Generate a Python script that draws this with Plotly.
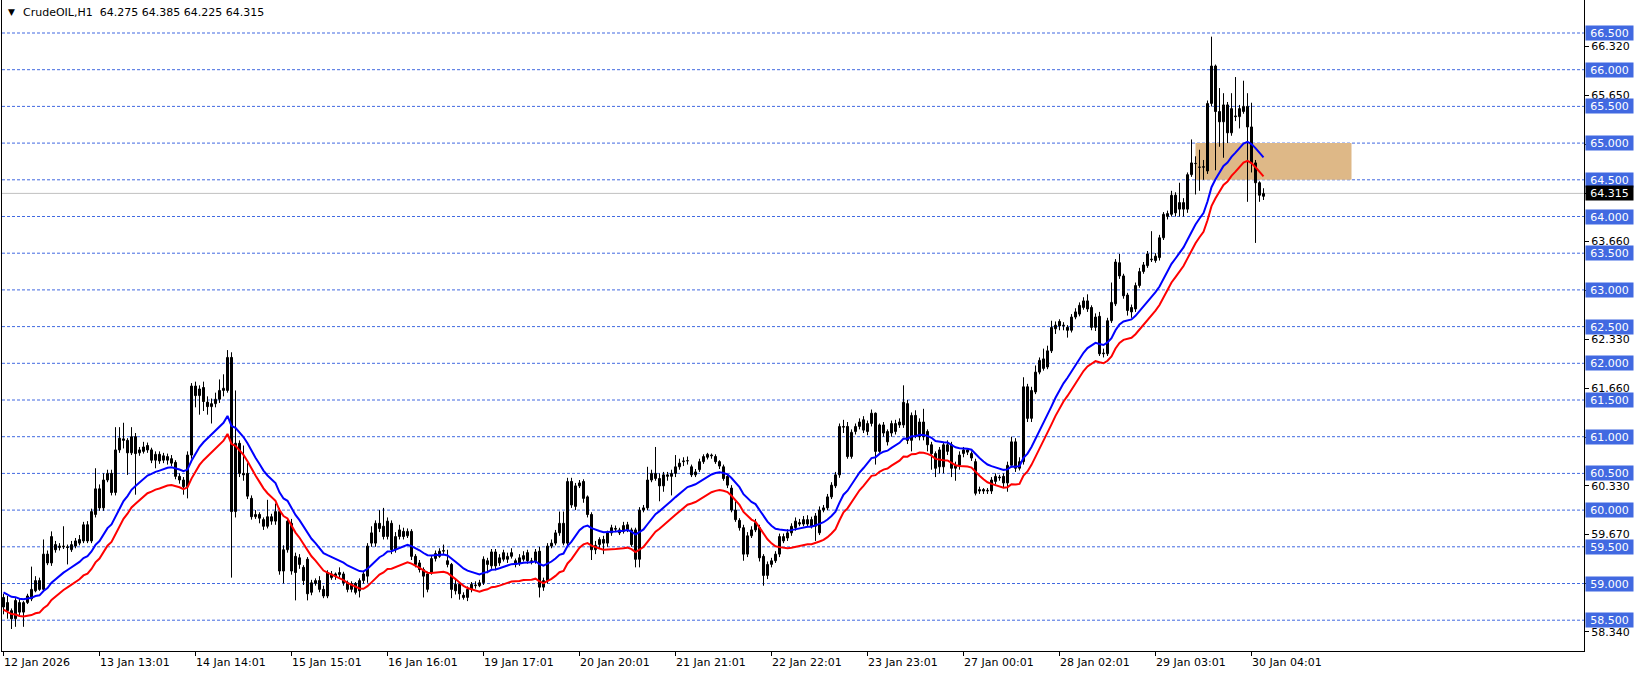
import plotly.graph_objects as go

# ---------------- data ----------------
open_ = [
58.81,58.74,58.63,58.52,58.74,58.61,58.74,58.79,58.90,59.04,
58.92,59.40,59.28,59.53,59.49,59.51,59.50,59.46,59.51,59.55,
59.58,59.80,59.58,59.94,60.29,60.03,60.41,60.50,60.24,60.82,
60.97,60.95,60.78,61.00,60.78,60.80,60.88,60.82,60.68,60.76,
60.68,60.68,60.70,60.65,60.46,60.41,60.32,60.75,61.69,61.56,
61.67,61.47,61.41,61.45,61.51,61.63,61.63,62.08,59.98,60.91,
60.50,60.50,60.16,59.91,59.94,59.87,59.78,59.85,59.85,59.98,
59.17,59.46,59.82,59.37,59.35,59.22,59.33,58.88,59.00,59.04,
58.92,58.83,59.08,59.10,59.12,59.13,59.01,58.92,59.00,58.90,
59.04,59.10,59.55,59.55,59.82,59.78,59.64,59.82,59.46,59.64,
59.71,59.65,59.71,59.37,59.28,59.19,58.92,59.15,59.34,59.37,
59.44,59.31,59.26,58.90,58.99,58.84,58.81,58.92,58.97,58.97,
59.01,59.31,59.24,59.43,59.28,59.33,59.33,59.37,59.31,59.27,
59.33,59.42,59.31,59.30,59.44,58.95,59.04,59.51,59.55,59.69,
59.82,59.55,60.39,60.05,60.33,60.39,60.18,59.94,59.46,59.53,
59.60,59.55,59.69,59.75,59.69,59.71,59.73,59.73,59.73,59.33,
60.00,60.03,60.41,60.43,60.43,60.33,60.46,60.46,60.50,60.59,
60.66,60.67,60.59,60.48,60.55,60.66,60.72,60.75,60.73,60.66,
60.59,60.46,60.30,60.00,59.86,59.76,59.40,59.65,59.73,59.76,
59.37,59.11,59.26,59.31,59.40,59.58,59.62,59.69,59.76,59.81,
59.81,59.81,59.87,59.78,59.69,60.00,60.03,60.18,60.33,60.48,
61.14,61.14,60.73,61.07,61.14,61.23,61.07,61.18,61.32,60.80,
61.16,61.07,61.05,61.07,61.16,61.16,61.45,60.95,61.29,61.00,
61.20,61.07,60.89,60.77,60.59,60.59,60.80,60.89,60.57,60.61,
60.77,60.82,60.77,60.66,60.26,60.28,60.26,60.26,60.39,60.45,
60.46,60.37,60.61,60.93,60.57,60.66,61.68,61.25,61.61,61.88,
61.93,61.95,62.17,62.47,62.57,62.51,62.49,62.45,62.63,62.67,
62.76,62.85,62.76,62.49,62.64,62.13,62.13,62.58,62.81,63.37,
63.19,62.93,62.76,62.74,63.06,63.25,63.33,63.41,63.40,63.44,
63.71,64.00,64.03,64.29,64.10,64.10,64.10,64.57,64.72,64.67,
64.67,64.62,65.54,66.05,65.43,65.29,65.52,65.14,65.37,65.36,
65.43,65.50,65.22,64.73,64.46,64.275,
]
high = [
58.86,58.83,58.66,58.80,58.79,58.76,58.86,59.23,59.10,59.08,
59.60,59.45,59.71,59.58,59.55,59.78,59.53,59.58,59.62,59.66,
59.84,59.85,60.02,60.57,60.35,60.50,60.55,60.55,61.13,61.13,
61.19,60.98,61.13,61.05,60.86,60.93,60.92,60.85,60.80,60.80,
60.78,60.77,60.75,60.68,60.50,60.45,60.80,61.73,61.75,61.70,
61.75,61.55,61.52,61.60,61.78,61.85,62.18,62.15,61.63,60.95,
60.88,60.64,60.20,60.00,59.97,59.90,60.14,59.95,60.09,60.03,
59.52,59.88,59.88,59.42,59.40,59.25,59.36,59.05,59.07,59.10,
58.97,59.18,59.17,59.15,59.22,59.16,59.04,59.03,59.02,59.07,
59.17,59.55,59.78,59.86,60.00,60.03,59.90,59.86,59.70,59.80,
59.76,59.75,59.74,59.40,59.32,59.22,59.16,59.38,59.45,59.48,
59.53,59.46,59.28,59.05,59.02,58.88,58.96,59.02,59.03,59.05,
59.37,59.35,59.47,59.47,59.40,59.46,59.42,59.48,59.34,59.40,
59.44,59.46,59.35,59.47,59.50,59.08,59.55,59.60,59.73,59.98,
59.98,60.44,60.44,60.37,60.41,60.42,60.20,59.97,59.58,59.63,
59.65,59.72,59.80,59.79,59.76,59.84,59.84,59.76,59.76,60.04,
60.07,60.59,60.55,60.86,60.50,60.52,60.52,60.55,60.75,60.70,
60.72,60.73,60.62,60.56,60.70,60.76,60.78,60.77,60.76,60.68,
60.62,60.48,60.34,60.12,59.89,59.80,59.70,59.78,59.88,59.80,
59.40,59.30,59.35,59.44,59.68,59.68,59.74,59.82,59.90,59.88,
59.92,59.93,59.91,59.96,60.05,60.07,60.22,60.38,60.52,61.18,
61.23,61.20,61.10,61.18,61.25,61.28,61.22,61.37,61.33,61.18,
61.20,61.10,61.22,61.23,61.25,61.70,61.50,61.33,61.36,61.25,
61.38,61.10,60.93,60.80,60.86,60.93,60.95,60.93,60.66,60.80,
60.86,60.84,60.80,60.70,60.32,60.30,60.30,60.45,60.50,60.48,
60.50,60.66,61.00,60.98,60.72,61.81,61.72,61.68,61.97,62.08,
62.20,62.24,62.58,62.57,62.60,62.56,62.52,62.67,62.75,62.83,
62.90,62.94,62.79,62.68,62.70,62.20,62.62,63.10,63.42,63.49,
63.22,62.96,62.80,63.10,63.30,63.38,63.53,63.80,63.50,63.75,
64.06,64.08,64.35,64.33,64.46,64.25,64.60,65.05,64.82,64.91,
64.77,65.58,66.45,66.07,65.75,65.68,65.56,65.68,65.90,65.52,
65.85,65.68,65.55,64.77,64.48,64.385,
]
low = [
58.58,58.52,58.38,58.41,58.56,58.41,58.72,58.76,58.88,58.90,
58.90,59.25,59.24,59.42,59.45,59.47,59.26,59.43,59.48,59.52,
59.55,59.55,59.55,59.90,59.99,59.99,60.38,60.20,60.20,60.78,
60.84,60.48,60.75,60.21,60.74,60.77,60.78,60.64,60.57,60.63,
60.64,60.62,60.60,60.42,60.36,60.21,60.16,60.70,61.40,61.30,
61.35,61.30,61.18,61.40,61.46,61.55,61.60,59.08,59.90,60.45,
60.40,60.15,59.87,59.88,59.82,59.73,59.75,59.80,59.80,59.12,
59.00,59.42,59.12,58.77,59.20,58.98,58.77,58.84,58.97,58.88,
58.80,58.80,59.05,59.05,59.08,58.97,58.88,58.88,58.85,58.81,
59.00,59.01,59.50,59.50,59.70,59.60,59.60,59.40,59.42,59.60,
59.60,59.62,59.32,59.22,59.15,58.81,58.88,59.12,59.30,59.35,
59.40,59.22,58.80,58.85,58.78,58.78,58.76,58.88,58.93,58.95,
58.98,59.14,59.20,59.18,59.24,59.30,59.28,59.34,59.22,59.24,
59.30,59.27,59.26,59.27,58.81,58.90,59.00,59.48,59.52,59.65,
59.52,59.52,60.03,60.00,60.30,60.10,59.90,59.32,59.40,59.48,
59.40,59.50,59.65,59.70,59.66,59.68,59.70,59.50,59.22,59.22,
59.97,60.00,60.38,60.40,60.12,60.25,60.40,60.20,60.45,60.55,
60.60,60.62,60.45,60.45,60.52,60.63,60.69,60.70,60.63,60.56,
60.40,60.30,59.97,59.84,59.72,59.31,59.36,59.62,59.70,59.30,
58.97,59.06,59.22,59.28,59.36,59.55,59.58,59.65,59.72,59.78,
59.78,59.77,59.75,59.58,59.66,59.97,60.00,60.15,60.30,60.44,
61.05,60.70,60.70,61.03,61.10,61.05,61.02,61.14,60.62,60.78,
61.00,60.88,61.00,61.03,61.12,61.12,60.90,60.80,60.98,60.95,
60.95,60.80,60.55,60.45,60.50,60.50,60.75,60.45,60.40,60.55,
60.72,60.75,60.67,60.20,60.22,60.22,60.22,60.22,60.35,60.40,
60.30,60.25,60.58,60.52,60.54,60.62,61.20,61.20,61.58,61.85,
61.90,61.92,62.14,62.40,62.45,62.45,62.35,62.42,62.60,62.64,
62.73,62.70,62.45,62.44,62.10,62.08,62.10,62.55,62.78,63.15,
62.88,62.65,62.62,62.70,63.03,63.22,63.30,63.38,63.37,63.40,
63.68,63.96,64.00,64.00,64.00,64.00,64.05,64.54,64.30,64.35,
64.50,64.58,65.50,64.63,64.95,64.80,65.00,65.10,65.30,65.20,
65.40,64.20,64.60,63.64,64.20,64.225,
]
close = [
58.68,58.63,58.52,58.77,58.61,58.74,58.83,58.92,59.04,58.92,
59.40,59.28,59.64,59.46,59.51,59.50,59.49,59.53,59.58,59.60,
59.80,59.58,59.98,60.29,60.03,60.41,60.50,60.24,60.82,60.98,
60.95,60.78,61.00,60.77,60.82,60.86,60.82,60.68,60.76,60.67,
60.74,60.73,60.64,60.46,60.41,60.32,60.75,61.69,61.56,61.65,
61.48,61.41,61.45,61.51,61.63,61.66,62.08,59.98,60.91,60.50,
60.48,60.19,59.91,59.94,59.89,59.78,59.91,59.91,59.98,59.17,
59.46,59.85,59.17,59.15,59.26,59.04,58.86,59.01,59.04,58.92,
58.83,59.15,59.13,59.13,59.15,59.01,58.92,59.00,58.88,59.04,
59.13,59.51,59.69,59.82,59.75,59.64,59.85,59.46,59.64,59.73,
59.64,59.71,59.37,59.26,59.19,59.10,59.13,59.34,59.41,59.44,
59.45,59.26,58.92,58.99,58.86,58.81,58.92,58.99,58.98,59.01,
59.33,59.26,59.43,59.24,59.35,59.42,59.37,59.42,59.26,59.35,
59.38,59.31,59.30,59.43,58.95,59.04,59.51,59.55,59.69,59.82,
59.55,60.39,60.07,60.33,60.37,60.16,59.94,59.46,59.52,59.60,
59.55,59.69,59.76,59.74,59.73,59.79,59.80,59.53,59.33,60.00,
60.03,60.41,60.50,60.50,60.33,60.48,60.48,60.50,60.59,60.64,
60.67,60.67,60.48,60.52,60.66,60.73,60.76,60.74,60.66,60.60,
60.43,60.34,60.00,59.87,59.76,59.40,59.65,59.73,59.83,59.35,
59.11,59.26,59.31,59.40,59.64,59.64,59.69,59.78,59.85,59.83,
59.87,59.87,59.78,59.92,60.00,60.03,60.18,60.34,60.48,61.14,
61.13,60.73,61.06,61.14,61.20,61.09,61.18,61.32,60.80,61.16,
61.05,60.93,61.18,61.18,61.20,61.47,60.95,61.29,61.02,61.20,
61.00,60.89,60.77,60.57,60.82,60.89,60.89,60.57,60.61,60.75,
60.82,60.79,60.71,60.23,60.28,60.26,60.27,60.41,60.46,60.44,
60.37,60.61,60.93,60.57,60.66,61.68,61.25,61.63,61.88,62.04,
62.06,62.17,62.49,62.52,62.51,62.52,62.45,62.63,62.70,62.79,
62.85,62.74,62.49,62.63,62.13,62.14,62.58,62.83,63.38,63.19,
62.92,62.72,62.70,63.06,63.25,63.34,63.49,63.42,63.46,63.71,
64.03,64.04,64.29,64.05,64.19,64.19,64.57,64.73,64.72,64.67,
64.68,65.54,66.05,65.43,65.29,65.52,65.14,65.47,65.36,65.47,
65.50,65.22,64.73,64.46,64.29,64.315,
]

# moving-average indicator settings
ema_period = 18
ema_seed = 58.88          # blue line value at the first bar
envelope_dev = 0.004      # red line sits ~0.4 % below the blue one

date_label_bars = [0, 24, 48, 72, 96, 120, 144, 168, 192, 216, 240, 264, 288, 312]
date_labels = ["12 Jan 2026", "13 Jan 13:01", "14 Jan 14:01", "15 Jan 15:01",
               "16 Jan 16:01", "19 Jan 17:01", "20 Jan 20:01", "21 Jan 21:01",
               "22 Jan 22:01", "23 Jan 23:01", "27 Jan 00:01", "28 Jan 02:01",
               "29 Jan 03:01", "30 Jan 04:01"]

level_lines = [66.5, 66.0, 65.5, 65.0, 64.5, 64.0, 63.5, 63.0, 62.5,
               62.0, 61.5, 61.0, 60.5, 60.0, 59.5, 59.0, 58.5]
scale_ticks = [66.32, 65.65, 64.98, 64.31, 63.66, 62.99, 62.33, 61.66,
               60.99, 60.33, 59.67, 59.00, 58.34]
scale_tick_labels = ["66.320", "65.650", "", "", "63.660", "", "62.330", "61.660",
                     "", "60.330", "59.670", "", "58.340"]
current_price = 64.315
zone_low, zone_high = 64.5, 65.0
zone_start_bar, zone_end_bar = 298, 337
symbol_text = "CrudeOIL,H1"
ohlc_text = "64.275 64.385 64.225 64.315"

# ---------------- derived series ----------------
bars = list(range(len(close)))
alpha = 2.0 / (ema_period + 1)
ema_blue = []
prev = ema_seed
for c in close:
    prev = prev if not ema_blue else prev + alpha * (c - prev)
    ema_blue.append(prev)
ema_red = [v * (1 - envelope_dev) for v in ema_blue]

up_x, up_base, up_h = [], [], []
dn_x, dn_base, dn_h = [], [], []
wick_x, wick_y = [], []
for i, (o, h, l, c) in enumerate(zip(open_, high, low, close)):
    wick_x += [i, i, None]
    wick_y += [l, h, None]
    if c >= o:
        up_x.append(i); up_base.append(o); up_h.append(max(c - o, 0.004))
    else:
        dn_x.append(i); dn_base.append(c); dn_h.append(o - c)

# ---------------- figure ----------------
FONT = "DejaVu Sans"
LEVEL_BLUE = "#4169E1"

fig = go.Figure()
fig.add_trace(go.Scatter(x=wick_x, y=wick_y, mode="lines",
                         line=dict(color="black", width=1), showlegend=False,
                         hoverinfo="skip"))
fig.add_trace(go.Bar(x=up_x, y=up_h, base=up_base, width=0.5,
                     marker=dict(color="white", line=dict(color="black", width=1)),
                     showlegend=False, hoverinfo="skip"))
fig.add_trace(go.Bar(x=dn_x, y=dn_h, base=dn_base, width=0.5,
                     marker=dict(color="black", line=dict(color="black", width=1)),
                     showlegend=False, hoverinfo="skip"))
fig.add_trace(go.Scatter(x=bars, y=ema_blue, mode="lines",
                         line=dict(color="#0000FF", width=2), showlegend=False,
                         hoverinfo="skip"))
fig.add_trace(go.Scatter(x=bars, y=ema_red, mode="lines",
                         line=dict(color="#FF0000", width=2), showlegend=False,
                         hoverinfo="skip"))

shapes = []
shapes.append(dict(type="rect", xref="x", yref="y", x0=zone_start_bar, x1=zone_end_bar,
                   y0=zone_low, y1=zone_high, fillcolor="#DEB887",
                   line=dict(width=0), layer="below"))
for lv in level_lines:
    shapes.append(dict(type="line", xref="paper", yref="y", x0=0, x1=1, y0=lv, y1=lv,
                       line=dict(color=LEVEL_BLUE, width=1, dash="3px,2px"), layer="below"))
shapes.append(dict(type="line", xref="paper", yref="y", x0=0, x1=1,
                   y0=current_price, y1=current_price,
                   line=dict(color="#C0C0C0", width=1), layer="below"))

annotations = []
for b, t in zip(date_label_bars, date_labels):
    annotations.append(dict(x=b, xref="x", y=0, yref="paper", yanchor="top",
                            xanchor="left", xshift=-2, yshift=-3, text=t, showarrow=False,
                            font=dict(family=FONT, size=11, color="black")))
for lv in level_lines:
    annotations.append(dict(x=1, xref="paper", y=lv, yref="y", xanchor="left",
                            yanchor="middle", xshift=1, text=f"{lv:.3f}", showarrow=False,
                            bgcolor=LEVEL_BLUE, width=45, height=12, borderpad=1,
                            font=dict(family=FONT, size=11, color="white")))
annotations.append(dict(x=1, xref="paper", y=current_price, yref="y", xanchor="left",
                        yanchor="middle", xshift=1, text=f"{current_price:.3f}",
                        showarrow=False, bgcolor="black", width=45, height=12,
                        borderpad=1, font=dict(family=FONT, size=11, color="white")))
annotations.append(dict(x=0, xref="paper", y=1, yref="paper", xanchor="left",
                        yanchor="top", xshift=4, yshift=-5, text="\u25BC",
                        showarrow=False, font=dict(family=FONT, size=9, color="black")))
annotations.append(dict(x=0, xref="paper", y=1, yref="paper", xanchor="left",
                        yanchor="top", xshift=19, yshift=-4,
                        text=symbol_text + "\u00a0\u00a0" + ohlc_text,
                        showarrow=False, font=dict(family=FONT, size=11, color="black")))

fig.update_layout(
    width=1641, height=675, autosize=False,
    margin=dict(l=2, r=57, t=0, b=24),
    paper_bgcolor="white", plot_bgcolor="white", barmode="overlay",
    shapes=shapes, annotations=annotations, showlegend=False,
    font=dict(family=FONT, size=11, color="black"),
    xaxis=dict(range=[-0.375, 395.125], showgrid=False, zeroline=False,
               showline=True, linecolor="black", linewidth=1,
               ticks="outside", ticklen=4, tickcolor="black",
               tickvals=date_label_bars, showticklabels=False, fixedrange=True),
    yaxis=dict(range=[58.0804, 66.9496], side="right", showgrid=False, zeroline=False,
               showline=True, linecolor="black", linewidth=1, mirror=True,
               ticks="outside", ticklen=4, tickcolor="black",
               tickvals=scale_ticks, ticktext=scale_tick_labels,
               tickfont=dict(family=FONT, size=11, color="black"), fixedrange=True),
)

fig.write_html(
    "out.html",
    config={"displayModeBar": False, "staticPlot": True},
    post_script="document.body.style.margin='0';document.body.style.overflow='hidden';",
)
